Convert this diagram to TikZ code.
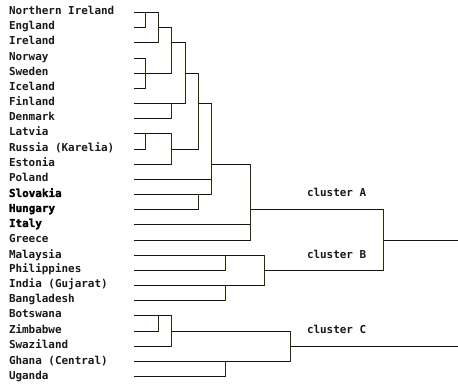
\documentclass[tikz,border=0pt]{standalone}
\usepackage{fontspec}
\newfontfamily\labfont{DejaVu Sans Mono}[UprightFont=*, BoldFont=* Bold]
\newfontfamily\labfontheavy{DejaVu Sans Mono Bold}[FakeBold=1.6]
\definecolor{hcol}{HTML}{141414}
\definecolor{vcol}{HTML}{33280A}
\begin{document}
\begin{tikzpicture}[x=0.75pt,y=-0.75pt,
  lab/.style={anchor=base west,inner sep=0pt,outer sep=0pt,font=\labfont\bfseries\fontsize{8.2pt}{10pt}\selectfont,text=black!90},
  labb/.style={lab,font=\labfontheavy\fontsize{8.2pt}{10pt}\selectfont,text=black},
  hl/.style={draw=hcol,line width=1.1pt,line cap=rect},
  vl/.style={draw=vcol,line width=1.1pt,line cap=rect}]
\useasboundingbox (0,0) rectangle (458,385);
% leaf rows
\foreach \i in {0,...,24}{
  \pgfmathsetmacro\yy{floor(12.5+15.17*\i)+0.5}
  \coordinate (r\i) at (135,\yy);
}
% merge columns
\coordinate (c1) at (145.5,0);
\coordinate (c2) at (158.5,0);
\coordinate (c3) at (171.5,0);
\coordinate (c4) at (185.5,0);
\coordinate (c5) at (198.5,0);
\coordinate (c6) at (211.5,0);
\coordinate (c7) at (225.5,0);
\coordinate (c8) at (250.5,0);
\coordinate (c9) at (264.5,0);
\coordinate (c10) at (290.5,0);
\coordinate (c11) at (383.5,0);
\coordinate (cE) at (458,0);
% labels
\node[lab]  (n0)  at ([xshift=-126*0.75pt,yshift=-2.5*0.75pt]r0)  {Northern Ireland};
\node[lab]  (n1)  at ([xshift=-126*0.75pt,yshift=-2.5*0.75pt]r1)  {England};
\node[lab]  (n2)  at ([xshift=-126*0.75pt,yshift=-2.5*0.75pt]r2)  {Ireland};
\node[lab]  (n3)  at ([xshift=-126*0.75pt,yshift=-2.5*0.75pt]r3)  {Norway};
\node[lab]  (n4)  at ([xshift=-126*0.75pt,yshift=-2.5*0.75pt]r4)  {Sweden};
\node[lab]  (n5)  at ([xshift=-126*0.75pt,yshift=-2.5*0.75pt]r5)  {Iceland};
\node[lab]  (n6)  at ([xshift=-126*0.75pt,yshift=-2.5*0.75pt]r6)  {Finland};
\node[lab]  (n7)  at ([xshift=-126*0.75pt,yshift=-2.5*0.75pt]r7)  {Denmark};
\node[lab]  (n8)  at ([xshift=-126*0.75pt,yshift=-2.5*0.75pt]r8)  {Latvia};
\node[lab]  (n9)  at ([xshift=-126*0.75pt,yshift=-2.5*0.75pt]r9)  {Russia (Karelia)};
\node[lab]  (n10) at ([xshift=-126*0.75pt,yshift=-2.5*0.75pt]r10) {Estonia};
\node[lab]  (n11) at ([xshift=-126*0.75pt,yshift=-2.5*0.75pt]r11) {Poland};
\node[labb] (n12) at ([xshift=-126*0.75pt,yshift=-2.5*0.75pt]r12) {Slovakia};
\node[labb] (n13) at ([xshift=-126*0.75pt,yshift=-2.5*0.75pt]r13) {Hungary};
\node[labb] (n14) at ([xshift=-126*0.75pt,yshift=-2.5*0.75pt]r14) {Italy};
\node[lab]  (n15) at ([xshift=-126*0.75pt,yshift=-2.5*0.75pt]r15) {Greece};
\node[lab]  (n16) at ([xshift=-126*0.75pt,yshift=-2.5*0.75pt]r16) {Malaysia};
\node[lab]  (n17) at ([xshift=-126*0.75pt,yshift=-2.5*0.75pt]r17) {Philippines};
\node[lab]  (n18) at ([xshift=-126*0.75pt,yshift=-2.5*0.75pt]r18) {India (Gujarat)};
\node[lab]  (n19) at ([xshift=-126*0.75pt,yshift=-2.5*0.75pt]r19) {Bangladesh};
\node[lab]  (n20) at ([xshift=-126*0.75pt,yshift=-2.5*0.75pt]r20) {Botswana};
\node[lab]  (n21) at ([xshift=-126*0.75pt,yshift=-2.5*0.75pt]r21) {Zimbabwe};
\node[lab]  (n22) at ([xshift=-126*0.75pt,yshift=-2.5*0.75pt]r22) {Swaziland};
\node[lab]  (n23) at ([xshift=-126*0.75pt,yshift=-2.5*0.75pt]r23) {Ghana (Central)};
\node[lab]  (n24) at ([xshift=-126*0.75pt,yshift=-2.5*0.75pt]r24) {Uganda};
% cluster labels
\node[lab] (kA) at ([xshift=172*0.75pt,yshift=-2.5*0.75pt]r12) {cluster A};
\node[lab] (kB) at ([xshift=172*0.75pt,yshift=-2.5*0.75pt]r16) {cluster B};
\node[lab] (kC) at ([xshift=172*0.75pt,yshift=-2.5*0.75pt]r21) {cluster C};
% horizontal segments
\draw[hl] (r0) -- (r0 -| c2);
\draw[hl] (r1) -- (r1 -| c1);  \draw[hl] (r1 -| c2) -- (r1 -| c3);
\draw[hl] (r2) -- (r2 -| c2);  \draw[hl] (r2 -| c3) -- (r2 -| c4);
\draw[hl] (r3) -- (r3 -| c1);
\draw[hl] (r4) -- (r4 -| c3);  \draw[hl] (r4 -| c4) -- (r4 -| c5);
\draw[hl] (r5) -- (r5 -| c1);
\draw[hl] (r6) -- (r6 -| c4);  \draw[hl] (r6 -| c5) -- (r6 -| c6);
\draw[hl] (r7) -- (r7 -| c3);
\draw[hl] (r8) -- (r8 -| c3);
\draw[hl] (r9) -- (r9 -| c1);  \draw[hl] (r9 -| c3) -- (r9 -| c5);
\draw[hl] (r10) -- (r10 -| c3); \draw[hl] (r10 -| c6) -- (r10 -| c8);
\draw[hl] (r11) -- (r11 -| c6);
\draw[hl] (r12) -- (r12 -| c6);
\draw[hl] (r13) -- (r13 -| c5); \draw[hl] (r13 -| c8) -- (r13 -| c11);
\draw[hl] (r14) -- (r14 -| c8);
\draw[hl] (r15) -- (r15 -| c8); \draw[hl] (r15 -| c11) -- (r15 -| cE);
\draw[hl] (r16) -- (r16 -| c9);
\draw[hl] (r17) -- (r17 -| c7); \draw[hl] (r17 -| c9) -- (r17 -| c11);
\draw[hl] (r18) -- (r18 -| c9);
\draw[hl] (r19) -- (r19 -| c7);
\draw[hl] (r20) -- (r20 -| c3);
\draw[hl] (r21) -- (r21 -| c2); \draw[hl] (r21 -| c3) -- (r21 -| c10);
\draw[hl] (r22) -- (r22 -| c3); \draw[hl] (r22 -| c10) -- (r22 -| cE);
\draw[hl] (r23) -- (r23 -| c10);
\draw[hl] (r24) -- (r24 -| c7);
% vertical segments
\draw[vl] (r0 -| c1) -- (r1 -| c1);
\draw[vl] (r3 -| c1) -- (r5 -| c1);
\draw[vl] (r8 -| c1) -- (r9 -| c1);
\draw[vl] (r0 -| c2) -- (r2 -| c2);
\draw[vl] (r20 -| c2) -- (r21 -| c2);
\draw[vl] (r1 -| c3) -- (r4 -| c3);
\draw[vl] (r6 -| c3) -- (r7 -| c3);
\draw[vl] (r8 -| c3) -- (r10 -| c3);
\draw[vl] (r20 -| c3) -- (r22 -| c3);
\draw[vl] (r2 -| c4) -- (r6 -| c4);
\draw[vl] (r4 -| c5) -- (r9 -| c5);
\draw[vl] (r12 -| c5) -- (r13 -| c5);
\draw[vl] (r6 -| c6) -- (r12 -| c6);
\draw[vl] (r16 -| c7) -- (r17 -| c7);
\draw[vl] (r18 -| c7) -- (r19 -| c7);
\draw[vl] (r23 -| c7) -- (r24 -| c7);
\draw[vl] (r10 -| c8) -- (r15 -| c8);
\draw[vl] (r16 -| c9) -- (r18 -| c9);
\draw[vl] (r21 -| c10) -- (r23 -| c10);
\draw[vl] (r13 -| c11) -- (r17 -| c11);
\end{tikzpicture}
\end{document}
